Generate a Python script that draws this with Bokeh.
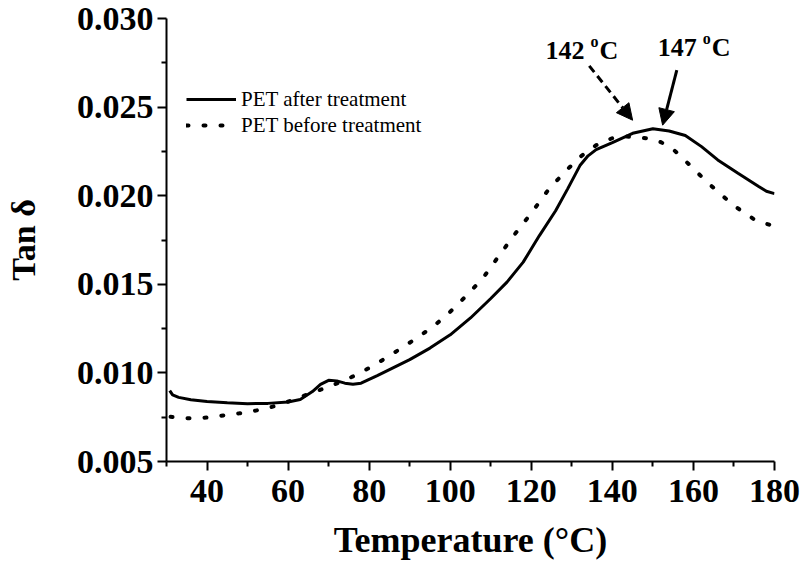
from bokeh.plotting import figure
from bokeh.models import (Range1d, FixedTicker, NumeralTickFormatter, Label, Arrow,
                          NormalHead, Legend, LegendItem)
from bokeh.embed import file_html
from bokeh.resources import INLINE

# ---- data ----
temp_after = [30.8, 31.5, 33, 36, 40, 45, 50, 55, 60, 63, 66, 68, 70, 72, 74, 76, 78, 82, 86,
              90, 95, 100, 105, 110, 114, 118, 122, 126, 129, 132, 134, 136, 140, 145, 150,
              154, 158, 162, 166, 171, 176, 178, 180]
tan_after = [0.00900, 0.00876, 0.00862, 0.00848, 0.00838, 0.00831, 0.00826, 0.00828, 0.00836,
             0.00850, 0.00895, 0.00935, 0.00958, 0.00955, 0.00942, 0.00936, 0.00942, 0.00985,
             0.01030, 0.01075, 0.01140, 0.01215, 0.01310, 0.01420, 0.01512, 0.01625, 0.01775,
             0.01915, 0.02040, 0.02170, 0.02225, 0.02260, 0.02300, 0.02352, 0.02378, 0.02365,
             0.02340, 0.02277, 0.02202, 0.02127, 0.02053, 0.02025, 0.02012]

temp_before = [31, 35, 40, 44, 48, 52, 56, 60, 64, 68, 72, 76, 80, 84, 88, 92, 96, 100, 104,
               108, 112, 116, 120, 124, 128, 132, 136, 140, 143, 146, 149, 152, 155, 159, 163,
               167, 171, 175, 180]
tan_before = [0.00752, 0.00744, 0.00748, 0.00760, 0.00772, 0.00787, 0.00808, 0.00838, 0.00872,
              0.00905, 0.00940, 0.00980, 0.01028, 0.01082, 0.01140, 0.01201, 0.01265, 0.01345,
              0.01436, 0.01533, 0.01660, 0.01785, 0.01902, 0.02027, 0.02128, 0.02218, 0.02285,
              0.02325, 0.02334, 0.02331, 0.02322, 0.02302, 0.02262, 0.02175, 0.02085, 0.02002,
              0.01928, 0.01866, 0.01826]

x_ticks = [40, 60, 80, 100, 120, 140, 160, 180]
x_minor = [30, 50, 70, 90, 110, 130, 150, 170]
y_ticks = [0.005, 0.010, 0.015, 0.020, 0.025, 0.030]
y_minor = [0.0075, 0.0125, 0.0175, 0.0225, 0.0275]

peak_labels = ["142", "147"]
label_x = [123.5, 151.2]
label_y = [0.02821, 0.02834]
arrow_start = [(134.3, 0.02733), (155.9, 0.02709)]
arrow_end = [(145.0, 0.02426), (152.4, 0.02398)]

SERIF = "Liberation Serif"

p = figure(width=800, height=565, output_backend="svg", toolbar_location=None,
           x_range=Range1d(30, 180), y_range=Range1d(0.005, 0.030),
           min_border_left=166, min_border_right=26, min_border_top=18, min_border_bottom=104)
p.outline_line_color = None
p.xgrid.grid_line_color = None
p.ygrid.grid_line_color = None
p.background_fill_color = "white"

r_after = p.line(temp_after, tan_after, line_color="black", line_width=3)
r_before = p.line(temp_before, tan_before, line_color="black", line_width=4,
                  line_dash="2 15", line_cap="round")

p.xaxis.ticker = FixedTicker(ticks=x_ticks, minor_ticks=x_minor)
p.yaxis.ticker = FixedTicker(ticks=y_ticks, minor_ticks=y_minor)
p.yaxis.formatter = NumeralTickFormatter(format="0.000")

for ax in (p.xaxis[0], p.yaxis[0]):
    ax.axis_line_width = 2
    ax.major_tick_line_width = 2
    ax.minor_tick_line_width = 2
    ax.major_tick_out = 9
    ax.major_tick_in = 0
    ax.minor_tick_out = 5
    ax.minor_tick_in = 0
    ax.major_label_text_font = SERIF
    ax.major_label_text_font_style = "bold"
    ax.major_label_text_font_size = "34px"
    ax.major_label_text_color = "black"
    ax.axis_label_text_font = SERIF
    ax.axis_label_text_font_style = "bold"
    ax.axis_label_text_color = "black"

p.xaxis.axis_label = "Temperature (°C)"
p.xaxis.axis_label_text_font_size = "36px"
p.xaxis.major_label_standoff = 9
p.xaxis.axis_label_standoff = 15
p.yaxis.major_label_standoff = 4
p.yaxis.axis_label = "Tan δ"
p.yaxis.axis_label_text_font_size = "34px"
p.yaxis.axis_label_standoff = 32

legend = Legend(items=[LegendItem(label="PET after treatment", renderers=[r_after]),
                       LegendItem(label="PET before treatment", renderers=[r_before])],
                location=(20, 447 - 72 - 52), glyph_width=50, glyph_height=26, label_height=26,
                spacing=0, padding=0, margin=0, label_standoff=5,
                border_line_color=None, background_fill_alpha=0,
                label_text_font=SERIF, label_text_font_size="21px",
                label_text_color="black")
p.add_layout(legend)

for txt, lx, ly in zip(peak_labels, label_x, label_y):
    p.add_layout(Label(x=lx, y=ly, text=txt, text_font=SERIF, text_font_style="bold",
                       text_font_size="26px", text_baseline="alphabetic", text_align="left",
                       text_color="black"))
    p.add_layout(Label(x=lx, y=ly, text="o", x_offset=45, y_offset=9, text_font=SERIF,
                       text_font_style="bold", text_font_size="16px",
                       text_baseline="alphabetic", text_align="left", text_color="black"))
    p.add_layout(Label(x=lx, y=ly, text="C", x_offset=54, text_font=SERIF,
                       text_font_style="bold", text_font_size="26px",
                       text_baseline="alphabetic", text_align="left", text_color="black"))

dashes = ["8 5", "solid"]
for (xs, ys), (xe, ye), d in zip(arrow_start, arrow_end, dashes):
    p.add_layout(Arrow(x_start=xs, y_start=ys, x_end=xe, y_end=ye, line_width=3,
                       line_dash=d, line_color="black",
                       end=NormalHead(size=16, line_color="black", fill_color="black",
                                      line_width=1)))

open("out.html", "w").write(file_html(p, INLINE))
